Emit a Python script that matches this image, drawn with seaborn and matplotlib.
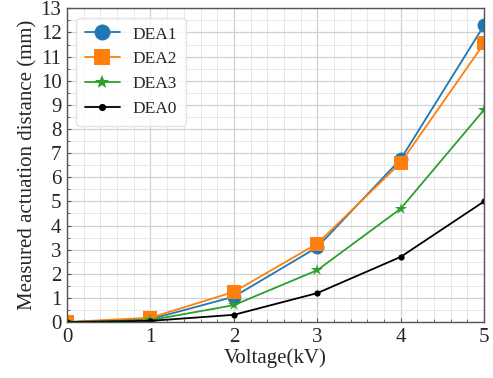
import numpy as np
import pandas as pd
import seaborn as sns
import matplotlib.pyplot as plt
from matplotlib.ticker import MultipleLocator

voltage = [0, 1, 2, 3, 4, 5]
dea1 = [0.0, 0.12, 1.05, 3.1, 6.75, 12.3]
dea2 = [0.0, 0.18, 1.25, 3.25, 6.6, 11.55]
dea3 = [0.0, 0.08, 0.7, 2.15, 4.7, 8.8]
dea0 = [0.0, 0.05, 0.3, 1.2, 2.7, 5.0]

series = ["DEA1", "DEA2", "DEA3", "DEA0"]
colors = ["#1f77b4", "#ff7f0e", "#2ca02c", "black"]
markers = ["o", "s", "*", "."]
msizes = [10, 10, 9, 9]

df = pd.DataFrame({"Voltage": voltage, "DEA1": dea1, "DEA2": dea2,
                   "DEA3": dea3, "DEA0": dea0})
long = df.melt(id_vars="Voltage", var_name="Sample", value_name="Distance")

sns.set_style("whitegrid")
plt.rcParams['font.family'] = ['Liberation Serif', 'DejaVu Serif']

fig, ax = plt.subplots(figsize=(4.93, 3.78), dpi=100)

for name, c, m, ms in zip(series, colors, markers, msizes):
    sub = long[long["Sample"] == name]
    sns.lineplot(data=sub, x="Voltage", y="Distance", ax=ax, color=c,
                 marker=m, markersize=ms, markeredgewidth=0, linewidth=1.3,
                 label=name)

ax.set_xlim(0, 5)
ax.set_ylim(0, 13)
ax.xaxis.set_major_locator(MultipleLocator(1))
ax.xaxis.set_minor_locator(MultipleLocator(0.2))
ax.yaxis.set_major_locator(MultipleLocator(1))
ax.yaxis.set_minor_locator(MultipleLocator(0.5))
ax.grid(which="major", color="#d0d0d0", linewidth=0.9)
ax.grid(which="minor", color="#e8e8e8", linewidth=0.7)
ax.tick_params(which="both", direction="in", bottom=True, left=True,
               labelsize=15, pad=4)
ax.tick_params(which="major", length=3, width=0.8, color="#555555")
ax.tick_params(which="minor", length=2, width=0.6, color="#555555")
for s in ax.spines.values():
    s.set_color("#555555")
    s.set_linewidth(1.0)

ax.set_xlabel("Voltage(kV)", fontsize=15, labelpad=1)
ax.set_ylabel("Measured actuation distance (mm)", fontsize=15, labelpad=2)

leg = ax.legend(loc="upper left", fontsize=12.5, frameon=True,
                handlelength=2.0, borderpad=0.5, labelspacing=0.5,
                handletextpad=0.75, borderaxespad=0.0, markerscale=1.15,
                bbox_to_anchor=(0.022, 0.97))
leg.get_frame().set_edgecolor("#dddddd")

fig.subplots_adjust(left=0.136, right=0.982, top=0.978, bottom=0.148)
fig.savefig("out.png", dpi=100)
